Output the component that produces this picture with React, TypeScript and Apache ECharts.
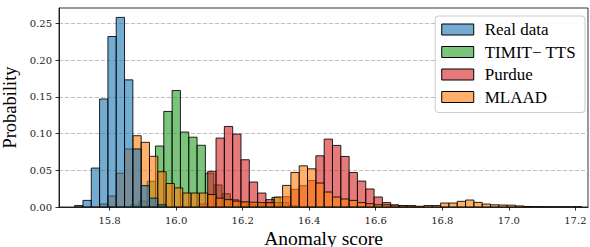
import React, { useEffect, useRef } from "react";
import * as echarts from "echarts";

// Histogram bins (probability per bin), bin width 0.025
const binWidth = 0.025;

const realStart = 15.695;
const realValues = [0.002, 0.009, 0.053, 0.147, 0.232, 0.258, 0.173, 0.079, 0.029, 0.012, 0.003];

const timitStart = 15.863;
const timitValues = [
  0.003, 0.008, 0.035, 0.083, 0.13, 0.1585, 0.102, 0.095, 0.084, 0.046,
  0.03, 0.018, 0.01, 0.006, 0.004, 0.003, 0.005, 0.013, 0.006, 0.002,
];

const purdueStart = 15.695;
const purdueValues = [
  0, 0, 0, 0, 0, 0, 0, 0, 0, 0, 0, 0, 0, 0, 0,
  0.004, 0.0485, 0.0938, 0.1096, 0.0992, 0.0643, 0.034, 0.019, 0.01, 0.006,
  0.014, 0.024, 0.029, 0.036, 0.0697, 0.0924, 0.0838, 0.0688, 0.047, 0.0353,
  0.0245, 0.0136, 0.006, 0.0027, 0.0015, 0.0008,
];

const mlaadStart = 15.695;
const mlaadValues = [
  0, 0, 0, 0.004, 0.015, 0.046, 0.079, 0.097, 0.088, 0.069,
  0.048, 0.032, 0.026, 0.019, 0.019, 0.019, 0.017, 0.012, 0.01, 0.008,
  0.007, 0.0065, 0.006, 0.006, 0.0136, 0.0294, 0.047, 0.056, 0.052, 0.0326,
  0.0204, 0.0136, 0.0109, 0.009, 0.006, 0.0045, 0.003, 0.003, 0.0027, 0.002,
  0.002, 0.001, 0.002, 0.002, 0.0054, 0.0054, 0.0077, 0.0095, 0.0063, 0.004,
  0.003, 0.0027, 0.0025, 0.0015, 0.0007, 0.0005, 0.0004, 0.0004, 0.0003, 0.0003,
  0.0003,
];

const seriesNames = ["Real data", "TIMIT\u2212 TTS", "Purdue", "MLAAD"];
const seriesColors = ["#1f77b4", "#2ca02c", "#d62728", "#ff7f0e"];

const xTicks = [15.8, 16.0, 16.2, 16.4, 16.6, 16.8, 17.0, 17.2];
const yTicks = [0, 0.05, 0.1, 0.15, 0.2, 0.25];

const FONT = "Liberation Serif";
const TICK_FONT = "DejaVu Serif";
const ALPHA = 0.62;

function hexA(hex: string, a: number) {
  const r = parseInt(hex.slice(1, 3), 16);
  const g = parseInt(hex.slice(3, 5), 16);
  const b = parseInt(hex.slice(5, 7), 16);
  return `rgba(${r},${g},${b},${a})`;
}

function toBins(start: number, values: number[]) {
  const out: number[][] = [];
  values.forEach((v, i) => {
    if (v > 0) out.push([start + i * binWidth, start + (i + 1) * binWidth, v]);
  });
  return out;
}

function histSeries(name: string, color: string, data: number[][]) {
  return {
    type: "custom",
    name,
    data,
    encode: { x: [0, 1], y: 2 },
    clip: true,
    renderItem: (params: any, api: any) => {
      const p0 = api.coord([api.value(0), api.value(2)]);
      const p1 = api.coord([api.value(1), 0]);
      return {
        type: "rect",
        shape: { x: p0[0], y: p0[1], width: p1[0] - p0[0], height: p1[1] - p0[1] },
        style: { fill: hexA(color, ALPHA), stroke: "rgba(0,0,0,0.85)", lineWidth: 1 },
      };
    },
  };
}

export default function App() {
  const ref = useRef<HTMLDivElement>(null);
  useEffect(() => {
    if (!ref.current) return;
    const chart = echarts.init(ref.current, undefined, { renderer: "svg" });
    const allData = [
      toBins(realStart, realValues),
      toBins(timitStart, timitValues),
      toBins(purdueStart, purdueValues),
      toBins(mlaadStart, mlaadValues),
    ];
    // drawing order: TIMIT, Purdue, MLAAD, Real data (on top)
    const drawOrder = [1, 2, 3, 0];
    chart.setOption({
      animation: false,
      backgroundColor: "#ffffff",
      textStyle: { fontFamily: FONT },
      grid: {
        left: 59,
        right: 2,
        top: 8,
        bottom: 40,
        containLabel: false,
        outerBoundsMode: "none",
        show: true,
        borderColor: "#000",
        borderWidth: 0.8,
        backgroundColor: "transparent",
      },
      legend: {
        orient: "vertical",
        right: 5,
        top: 16,
        padding: [5, 9, 7, 6],
        itemGap: 5.5,
        itemWidth: 32,
        itemHeight: 11,
        backgroundColor: "rgba(255,255,255,0.9)",
        borderColor: "#cccccc",
        borderWidth: 1,
        borderRadius: 3,
        textStyle: { fontFamily: FONT, fontSize: 17, color: "#000", padding: [0, 0, 0, 6] },
        data: seriesNames.map((n, i) => ({
          name: n,
          icon: "rect",
          itemStyle: { color: hexA(seriesColors[i], ALPHA), borderColor: "#000", borderWidth: 1 },
        })),
        selectedMode: false,
      },
      xAxis: {
        type: "value",
        min: 15.648,
        max: 17.238,
        name: "Anomaly score",
        nameLocation: "middle",
        nameGap: 21,
        nameMoveOverlap: false,
        nameTextStyle: { fontFamily: FONT, fontSize: 19.5, color: "#000" },
        axisLine: { show: true, onZero: false, lineStyle: { color: "#000", width: 0.8 } },
        axisTick: { show: true, length: 3.5, customValues: xTicks, lineStyle: { color: "#000", width: 0.8 } },
        axisLabel: {
          customValues: xTicks,
          formatter: (v: number) => v.toFixed(1),
          fontFamily: TICK_FONT,
          fontSize: 10,
          color: "#222",
          margin: 8,
        },
        splitLine: { show: false },
      },
      yAxis: {
        type: "value",
        min: 0,
        max: 0.2708,
        interval: 0.05,
        name: "Probability",
        nameLocation: "middle",
        nameGap: 40,
        nameMoveOverlap: false,
        nameTextStyle: { fontFamily: FONT, fontSize: 18.5, color: "#000" },
        axisLine: { show: true, lineStyle: { color: "#000", width: 0.8 } },
        axisTick: { show: true, length: 3.5, customValues: yTicks, lineStyle: { color: "#000", width: 0.8 } },
        axisLabel: {
          customValues: yTicks,
          formatter: (v: number) => v.toFixed(2),
          fontFamily: TICK_FONT,
          fontSize: 10,
          color: "#222",
          margin: 7,
        },
        splitLine: { show: true, lineStyle: { color: "#b0b0b0", type: [4, 2], width: 0.8 } },
      },
      series: drawOrder.map((i) => histSeries(seriesNames[i], seriesColors[i], allData[i])),
    });
    return () => chart.dispose();
  }, []);
  return (
    <div
      ref={ref}
      style={{ position: "fixed", left: 0, top: 0, width: 590, height: 247, background: "#fff" }}
    />
  );
}
